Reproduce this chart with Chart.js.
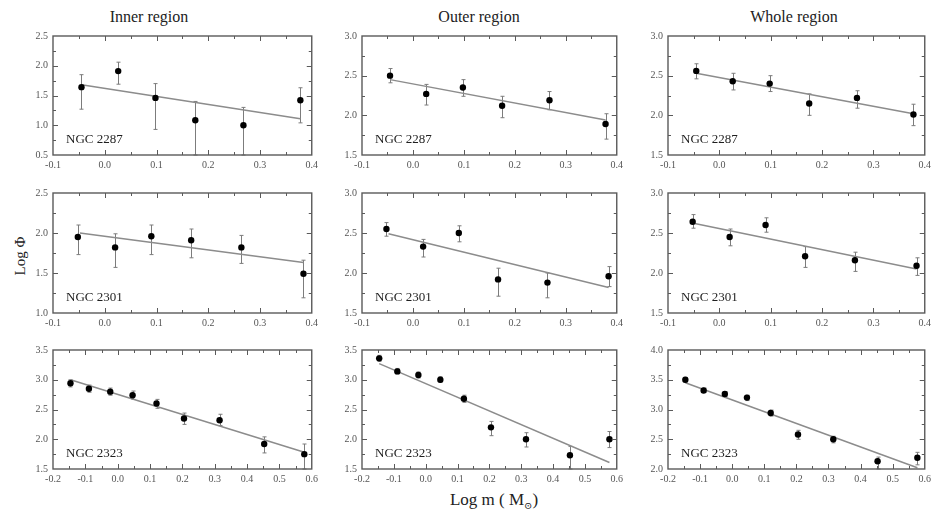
<!DOCTYPE html>
<html><head><meta charset="utf-8">
<script src="https://cdn.jsdelivr.net/npm/chart.js@4.4.0/dist/chart.umd.min.js"></script>
<style>
body{margin:0;background:#fff;width:935px;height:515px;overflow:hidden;position:relative;font-family:"Liberation Serif","DejaVu Serif",serif;}
canvas{position:absolute;}
.t{position:absolute;color:#222;white-space:nowrap;line-height:1;}
</style></head><body>
<div class="t" id="t0" style="font-size:16px;left:149px;top:17px;transform:translate(-50%,-50%)">Inner region</div>
<div class="t" id="t1" style="font-size:16px;left:479px;top:17px;transform:translate(-50%,-50%)">Outer region</div>
<div class="t" id="t2" style="font-size:16px;left:794px;top:17px;transform:translate(-50%,-50%)">Whole region</div>
<div class="t" style="font-size:15px;left:20px;top:256px;transform:translate(-50%,-50%) rotate(-90deg)">Log Φ</div>
<div class="t" style="font-size:17px;left:494px;top:501px;transform:translate(-50%,-50%)">Log m ( M<sub style="font-size:10px">⊙</sub>)</div>
<script>
// ---- data ----
const xTop = [-0.045, 0.026, 0.098, 0.175, 0.268, 0.378];
const xMid = [-0.052, 0.020, 0.090, 0.167, 0.264, 0.384];
const xBot = [-0.146, -0.089, -0.023, 0.046, 0.120, 0.205, 0.315, 0.453, 0.577];
const fitXTop = [-0.045, 0.378];
const fitXMid = [-0.048, 0.384];
const fitXBot = [-0.146, 0.577];

const inner2287Y  = [1.64, 1.91, 1.46, 1.085, 1.00, 1.42];
const inner2287Hi = [1.85, 2.06, 1.70, 1.40, 1.30, 1.63];
const inner2287Lo = [1.27, 1.69, 0.93, 0.50, 0.50, 1.04];
const inner2287Fit = [1.68, 1.11];

const outer2287Y  = [2.50, 2.27, 2.35, 2.12, 2.19, 1.89];
const outer2287Hi = [2.59, 2.39, 2.45, 2.24, 2.30, 2.02];
const outer2287Lo = [2.41, 2.13, 2.24, 1.97, 2.07, 1.70];
const outer2287Fit = [2.45, 1.94];

const whole2287Y  = [2.56, 2.43, 2.40, 2.15, 2.22, 2.01];
const whole2287Hi = [2.65, 2.53, 2.50, 2.27, 2.31, 2.14];
const whole2287Lo = [2.46, 2.32, 2.30, 2.00, 2.09, 1.87];
const whole2287Fit = [2.53, 2.02];

const inner2301Y  = [1.95, 1.82, 1.96, 1.91, 1.82, 1.49];
const inner2301Hi = [2.10, 1.99, 2.10, 2.05, 1.97, 1.66];
const inner2301Lo = [1.73, 1.57, 1.73, 1.69, 1.62, 1.19];
const inner2301Fit = [2.00, 1.63];

const outer2301Y  = [2.55, 2.33, 2.50, 1.92, 1.88, 1.96];
const outer2301Hi = [2.63, 2.42, 2.59, 2.06, 2.00, 2.08];
const outer2301Lo = [2.46, 2.20, 2.39, 1.71, 1.69, 1.83];
const outer2301Fit = [2.49, 1.82];

const whole2301Y  = [2.64, 2.45, 2.60, 2.21, 2.16, 2.09];
const whole2301Hi = [2.73, 2.55, 2.69, 2.33, 2.26, 2.19];
const whole2301Lo = [2.56, 2.34, 2.51, 2.07, 2.02, 1.97];
const whole2301Fit = [2.62, 2.05];

const inner2323Y  = [2.94, 2.85, 2.80, 2.74, 2.60, 2.35, 2.32, 1.92, 1.75];
const inner2323Hi = [3.00, 2.91, 2.86, 2.81, 2.67, 2.44, 2.42, 2.04, 1.92];
const inner2323Lo = [2.88, 2.79, 2.74, 2.67, 2.52, 2.25, 2.23, 1.77, 1.50];
const inner2323Fit = [3.00, 1.78];

const outer2323Y  = [3.36, 3.14, 3.08, 3.00, 2.68, 2.20, 2.00, 1.73, 2.00];
const outer2323Hi = [3.41, 3.19, 3.13, 3.05, 2.74, 2.30, 2.11, 1.88, 2.13];
const outer2323Lo = [3.31, 3.10, 3.03, 2.96, 2.62, 2.06, 1.87, 1.50, 1.86];
const outer2323Fit = [3.27, 1.61];

const whole2323Y  = [3.50, 3.32, 3.26, 3.20, 2.94, 2.58, 2.50, 2.13, 2.19];
const whole2323Hi = [3.54, 3.36, 3.30, 3.24, 2.99, 2.65, 2.55, 2.20, 2.28];
const whole2323Lo = [3.46, 3.29, 3.22, 3.15, 2.89, 2.50, 2.44, 2.00, 2.07];
const whole2323Fit = [3.45, 2.02];

const xRangeTop = [-0.1, 0.4];
const xRangeBot = [-0.2, 0.6];
const yRanges = [[[0.5,2.5],[1.5,3.0],[1.5,3.0]],
                 [[1.0,2.5],[1.5,3.0],[1.5,3.0]],
                 [[1.5,3.5],[1.5,3.5],[2.0,4.0]]];
const clusterLabels = ['NGC 2287', 'NGC 2301', 'NGC 2323'];

// ---- layout ----
const colLeft = [53, 362, 668], colWidth = [259, 255, 257];
const rowTop = [31, 188, 345], rowHeight = [124, 125, 124];
const Y_AXIS_W = 30, X_AXIS_H = 18, PAD_TOP = 6, PAD_RIGHT = 10;

const rows = [
  {x: xTop, fitX: fitXTop, xr: xRangeTop, sets: [
    [inner2287Y, inner2287Hi, inner2287Lo, inner2287Fit],
    [outer2287Y, outer2287Hi, outer2287Lo, outer2287Fit],
    [whole2287Y, whole2287Hi, whole2287Lo, whole2287Fit]]},
  {x: xMid, fitX: fitXMid, xr: xRangeTop, sets: [
    [inner2301Y, inner2301Hi, inner2301Lo, inner2301Fit],
    [outer2301Y, outer2301Hi, outer2301Lo, outer2301Fit],
    [whole2301Y, whole2301Hi, whole2301Lo, whole2301Fit]]},
  {x: xBot, fitX: fitXBot, xr: xRangeBot, sets: [
    [inner2323Y, inner2323Hi, inner2323Lo, inner2323Fit],
    [outer2323Y, outer2323Hi, outer2323Lo, outer2323Fit],
    [whole2323Y, whole2323Hi, whole2323Lo, whole2323Fit]]}
];

const SERIF = '"Liberation Serif", "DejaVu Serif", serif';

const decoPlugin = {
  id: 'deco',
  beforeDatasetsDraw(chart) {
    const o = chart.options.plugins.deco;
    const {ctx} = chart; const xs = chart.scales.x, ys = chart.scales.y;
    ctx.save();
    ctx.strokeStyle = '#7c7c7c'; ctx.lineWidth = 1;
    o.xs.forEach((xv, i) => {
      const px = Math.round(xs.getPixelForValue(xv)) + 0.5;
      const a = ys.getPixelForValue(o.hi[i]);
      const b = ys.getPixelForValue(o.lo[i]);
      ctx.beginPath();
      ctx.moveTo(px, a); ctx.lineTo(px, b);
      ctx.moveTo(px - 2, a); ctx.lineTo(px + 2, a);
      ctx.moveTo(px - 2, b); ctx.lineTo(px + 2, b);
      ctx.stroke();
    });
    ctx.restore();
  },
  afterDraw(chart) {
    const o = chart.options.plugins.deco;
    const {ctx, chartArea: ca} = chart; const xs = chart.scales.x, ys = chart.scales.y;
    ctx.save();
    ctx.strokeStyle = '#5a5a5a'; ctx.lineWidth = 1.4;
    ctx.strokeRect(ca.left, ca.top, ca.right - ca.left, ca.bottom - ca.top);
    ctx.lineWidth = 1;
    ctx.beginPath();
    const isMaj = (v, s) => Math.abs(v / s - Math.round(v / s)) < 1e-6;
    for (let k = 1; ; k++) {
      const v = xs.min + k * 0.05; if (v > xs.max - 1e-9) break;
      const px = Math.round(xs.getPixelForValue(v)) + 0.5;
      const L = isMaj(v, 0.1) ? 5 : 3;
      ctx.moveTo(px, ca.bottom); ctx.lineTo(px, ca.bottom - L);
      ctx.moveTo(px, ca.top); ctx.lineTo(px, ca.top + L);
    }
    for (let k = 1; ; k++) {
      const v = ys.min + k * 0.25; if (v > ys.max - 1e-9) break;
      const py = Math.round(ys.getPixelForValue(v)) + 0.5;
      const L = isMaj(v, 0.5) ? 5 : 3;
      ctx.moveTo(ca.left, py); ctx.lineTo(ca.left + L, py);
      ctx.moveTo(ca.right, py); ctx.lineTo(ca.right - L, py);
    }
    ctx.stroke();
    ctx.fillStyle = '#1e1e1e';
    ctx.font = '13px ' + SERIF;
    ctx.textBaseline = 'alphabetic';
    ctx.fillText(o.label, ca.left + 13, ca.bottom - 12);
    ctx.restore();
  }
};

rows.forEach((row, r) => {
  row.sets.forEach((set, c) => {
    const [ys, hi, lo, fit] = set;
    const L = colLeft[c], T = rowTop[r], W = colWidth[c], H = rowHeight[r];
    const cv = document.createElement('canvas');
    const cw = W + Y_AXIS_W + PAD_RIGHT, chh = H + PAD_TOP + X_AXIS_H;
    cv.width = cw; cv.height = chh;
    cv.style.left = (L - Y_AXIS_W) + 'px'; cv.style.top = (T - PAD_TOP) + 'px';
    cv.style.width = cw + 'px'; cv.style.height = chh + 'px';
    document.body.appendChild(cv);
    const yr = yRanges[r][c];
    new Chart(cv, {
      type: 'scatter',
      data: {
        datasets: [
          {type: 'line', data: row.fitX.map((xv, i) => ({x: xv, y: fit[i]})),
           borderColor: '#8c8c8c', borderWidth: 1.5, pointRadius: 0, fill: false, order: 2},
          {data: row.x.map((xv, i) => ({x: xv, y: ys[i]})),
           pointRadius: 3.2, backgroundColor: '#000', borderColor: '#000', borderWidth: 0, order: 1}
        ]
      },
      options: {
        responsive: false, animation: false, devicePixelRatio: 1,
        events: [],
        layout: {padding: {top: PAD_TOP, right: PAD_RIGHT, left: 0, bottom: 0}},
        plugins: {legend: {display: false}, tooltip: {enabled: false},
          deco: {xs: row.x, hi: hi, lo: lo, label: clusterLabels[r]}},
        scales: {
          x: {type: 'linear', min: row.xr[0], max: row.xr[1],
            grid: {display: false, drawTicks: false}, border: {display: false},
            ticks: {stepSize: 0.1, padding: 4, color: '#555', font: {family: SERIF, size: 10},
              maxRotation: 0, autoSkip: false, callback: v => (Math.abs(v) < 1e-9 ? 0 : v).toFixed(1)},
            afterFit: s => { s.height = X_AXIS_H; }},
          y: {type: 'linear', min: yr[0], max: yr[1],
            grid: {display: false, drawTicks: false}, border: {display: false},
            ticks: {stepSize: 0.5, padding: 5, color: '#555', font: {family: SERIF, size: 10},
              callback: v => v.toFixed(1)},
            afterFit: s => { s.width = Y_AXIS_W; }}
        }
      },
      plugins: [decoPlugin]
    });
  });
});
</script>
</body></html>
